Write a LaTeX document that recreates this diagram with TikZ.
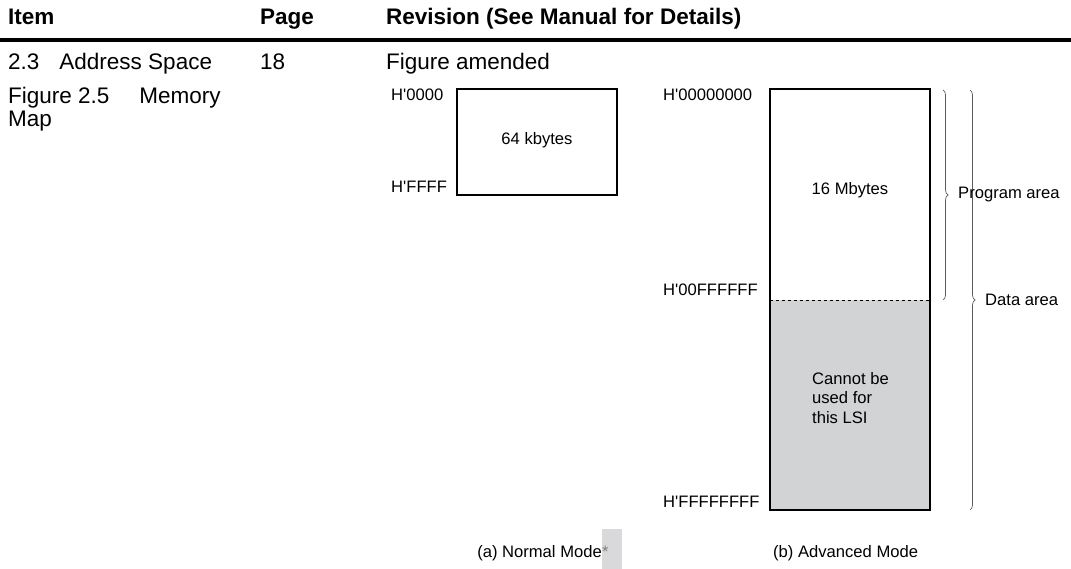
\documentclass[tikz,border=0pt]{standalone}
\usepackage{fontspec}
\setmainfont[Ligatures=TeXOff]{Liberation Sans}
\usetikzlibrary{decorations.pathreplacing}
\definecolor{unusedgray}{RGB}{210,211,213}
\definecolor{bracegray}{RGB}{90,90,90}
\definecolor{notegray}{RGB}{217,217,219}

\begin{document}
\begin{tikzpicture}[x=1pt,y=-1pt,
    headtext/.style={anchor=base west,inner sep=0pt,font=\fontsize{22.5}{24}\selectfont\bfseries},
    bodytext/.style={anchor=base west,inner sep=0pt,font=\fontsize{22.5}{24}\selectfont},
    addr/.style={anchor=base west,inner sep=0pt,font=\fontsize{16.6}{19}\selectfont},
    small/.style={inner sep=0pt,font=\fontsize{16.6}{19.5}\selectfont},
    membox/.style={draw,line width=1.6pt,inner sep=0pt},
    areabrace/.style={draw=bracegray,line width=0.7pt,decorate,decoration={brace,amplitude=5pt}}]
                    \useasboundingbox (0,0) rectangle (1071,569);

                    % table header
                    \node[headtext] (hitem) at (8,25) {Item};
                    \node[headtext] (hpage) at (260,25) {Page};
                    \node[headtext] (hrev) at (386,25) {Revision (See Manual for Details)};
                    \draw[line width=4pt] (0,40) -- (1071,40);

                    % table row
                    \node[bodytext] (item) at (8,70) {2.3\hspace{20pt}Address Space};
                    \node[bodytext] (page) at (260,70) {18};
                    \node[bodytext] (rev) at (386,70) {Figure amended};
                    \node[bodytext] (fig) at (8,104) {Figure 2.5\hspace{30pt}Memory};
                    \node[bodytext] (map) at (8,127) {Map};

                    % (a) normal mode
                    \node[membox,minimum width=160pt,minimum height=106pt] (normal) at (537,142) {};
                    \node[small,anchor=base] (nsize) at (537,145) {64 kbytes};
                    \node[addr] (n0) at (391,101) {H'0000};
                    \node[addr] (n1) at (391,193) {H'FFFF};

                    % (b) advanced mode
                    \fill[unusedgray] (770,300) rectangle (930,510);
                    \draw[dashed,line width=0.7pt] (770,300) -- (930,300);
                    \node[membox,minimum width=160pt,minimum height=421pt] (adv) at (850,299.5) {};
                    \node[small,anchor=base] (prog) at (850,195) {16 Mbytes};
                    \node[small,anchor=north west,align=left] (lsi) at (812,372) {Cannot be\\used for\\this LSI};
                    \node[addr] (a0) at (663,101) {H'00000000};
                    \node[addr] (a1) at (663,296) {H'00FFFFFF};
                    \node[addr] (a2) at (663,507) {H'FFFFFFFF};

                    % braces
                    \coordinate (pt) at (943,90);
                    \coordinate (pb) at (943,300);
                    \coordinate (dt) at (970,90);
                    \coordinate (db) at (970,510);
                    \draw[areabrace] (pt) -- (pb);
                    \draw[areabrace] (dt) -- (db);
                    \node[addr] (parea) at (958,199) {Program area};
                    \node[addr] (darea) at (985,306) {Data area};

                    % captions
                    \fill[notegray] (602,529) rectangle (622,569);
                    \node[addr,anchor=base east] (capa) at (602,557) {(a) Normal Mode};
                    \node[addr,text=gray] (star) at (capa.base east) {*};
                    \node[addr] (capb) at (773,557) {(b) Advanced Mode};
\end{tikzpicture}
\end{document}
